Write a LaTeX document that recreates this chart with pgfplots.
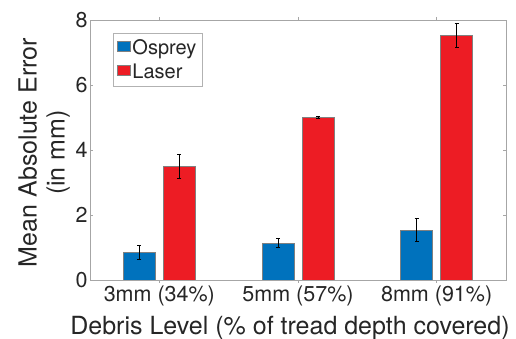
\documentclass[border=0pt]{standalone}
\usepackage{fontspec}
\setmainfont{TeX Gyre Heros}
\usepackage{pgfplots}
\pgfplotsset{compat=1.18}
\definecolor{ospblue}{RGB}{0,114,189}
\definecolor{lasred}{RGB}{237,28,36}
\definecolor{txt}{RGB}{38,38,38}
\begin{document}
\begin{tikzpicture}
\path[use as bounding box] (-90pt,-59pt) rectangle (426pt,280pt);
\begin{axis}[at={(0,0)}, anchor=south west, scale only axis,
  width=416pt, height=260pt,
  xmin=0.5, xmax=3.5, ymin=0, ymax=8,
  xtick={1,2,3}, xticklabels={3mm (34\%),5mm (57\%),8mm (91\%)},
  ytick={0,2,4,6,8},
  tick align=inside, major tick length=3pt,
  axis line style={gray!70}, tick style={gray!70, line width=0.4pt},
  ticklabel style={font=\fontsize{21.5}{23}\selectfont, text=txt},
  xticklabel style={yshift=1pt},
  yticklabel style={xshift=1pt},
  /pgf/number format/assume math mode=true,
  xlabel={Debris Level (\% of tread depth covered)},
  xlabel style={font=\fontsize{25}{27}\selectfont, text=txt, at={(axis description cs:0.5,0)}, anchor=center, yshift=-48pt, xshift=-8pt},
  ylabel={Mean Absolute Error\\(in mm)},
  ylabel style={font=\fontsize{25}{28}\selectfont, text=txt, align=center, at={(axis description cs:-0.11,0.49)}, anchor=center, rotate=0},
  ybar, bar width=32pt,
  legend style={at={(axis description cs:0.055,0.95)}, anchor=north west, draw=gray!60, fill=white,
    font=\fontsize{20}{22}\selectfont, text=txt, row sep=4pt, inner xsep=4pt, inner ysep=4pt},
  legend cell align=left,
  legend image code/.code={\fill[#1] (0pt,-4pt) rectangle (13pt,6pt);},
  error bars/y dir=both, error bars/y explicit,
  error bars/error bar style={black, line width=1pt},
  error bars/error mark options={rotate=90, mark size=2pt, line width=1pt, black},
]
\addplot[fill=ospblue, draw=gray, line width=0.4pt, bar shift=-20pt] coordinates {
  (1,0.84) +- (0,0.22)
  (2,1.13) +- (0,0.14)
  (3,1.53) +- (0,0.36)
};
\addplot[fill=lasred, draw=gray, line width=0.4pt, bar shift=20pt] coordinates {
  (1,3.50) +- (0,0.37)
  (2,5.00) +- (0,0.02)
  (3,7.52) +- (0,0.36)
};
\legend{Osprey, Laser}
\end{axis}
\end{tikzpicture}
\end{document}
